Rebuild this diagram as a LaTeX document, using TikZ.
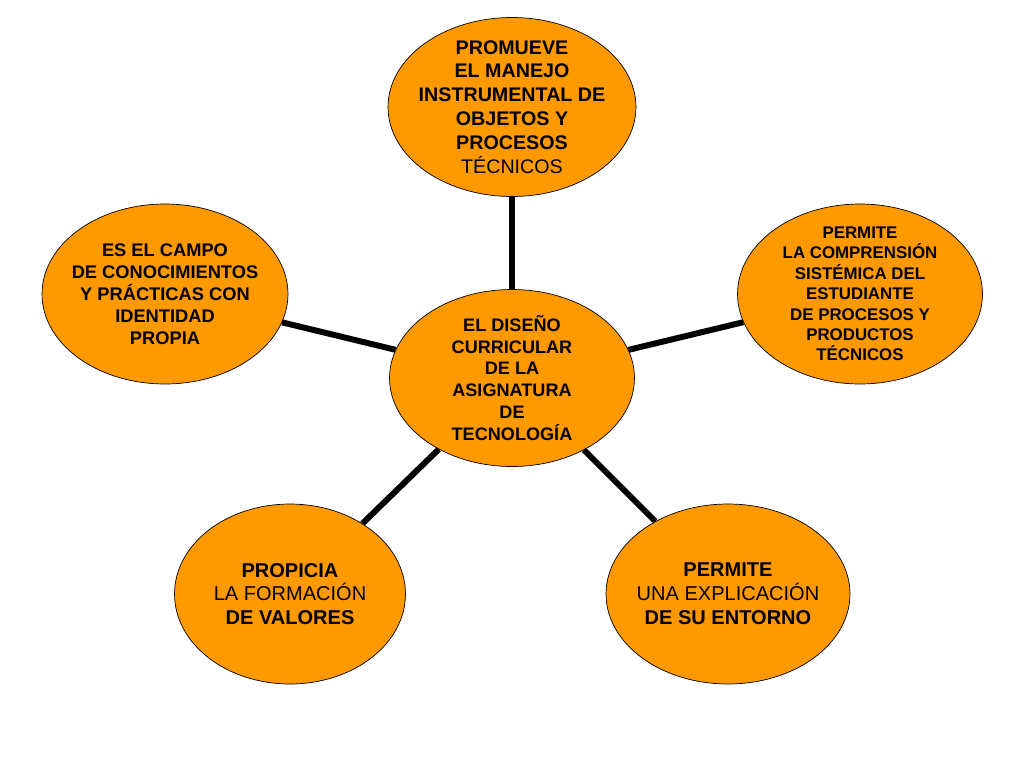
\documentclass[tikz,border=0pt]{standalone}
\usepackage{fontspec}
\setmainfont{Liberation Sans}
\usepackage{tikz}
\usetikzlibrary{shapes.geometric}
\definecolor{naranja}{HTML}{FF9900}

\tikzset{
  globo/.style={ellipse, draw=black, thin, fill=naranja, inner sep=0pt},
  texto/.style={align=center, inner sep=0pt},
  enlace/.style={line width=3.4pt, black}
}

\begin{document}
\begin{tikzpicture}[x=0.02cm, y=-0.02cm]
  \useasboundingbox (0,0) rectangle (1024,768);

  % the ellipses: the subject in the middle, five ideas around it
  \node [globo, minimum width=4.9cm,  minimum height=3.54cm] (centro)    at (512,378) {};
  \node [globo, minimum width=4.96cm, minimum height=3.58cm] (arriba)    at (512,107) {};
  \node [globo, minimum width=4.92cm, minimum height=3.6cm]  (izquierda) at (165,294) {};
  \node [globo, minimum width=4.9cm,  minimum height=3.6cm]  (derecha)   at (860,294) {};
  \node [globo, minimum width=4.62cm, minimum height=3.6cm]  (abajoizq)  at (290,594) {};
  \node [globo, minimum width=4.88cm, minimum height=3.6cm]  (abajoder)  at (728,594) {};

  % their texts
  \node [texto, font=\fontsize{10.3}{12.5}\selectfont\bfseries] (t-centro) at (centro)
    {EL DISEÑO\\ CURRICULAR\\ DE LA\\ ASIGNATURA\\ DE\\ TECNOLOGÍA};
  \node [texto, font=\fontsize{11.2}{13.6}\selectfont\bfseries] (t-arriba) at (arriba)
    {PROMUEVE\\ EL MANEJO\\ INSTRUMENTAL DE\\ OBJETOS Y\\ PROCESOS\\ {\mdseries TÉCNICOS}};
  \node [texto, font=\fontsize{10.4}{12.6}\selectfont\bfseries] (t-izquierda) at (izquierda)
    {ES EL CAMPO\\ DE CONOCIMIENTOS\\ Y PRÁCTICAS CON\\ IDENTIDAD\\ PROPIA};
  \node [texto, font=\fontsize{9.6}{11.6}\selectfont\bfseries] (t-derecha) at (derecha)
    {PERMITE\\ LA COMPRENSIÓN\\ SISTÉMICA DEL\\ ESTUDIANTE\\ DE PROCESOS Y\\ PRODUCTOS\\ TÉCNICOS};
  \node [texto, font=\fontsize{11.4}{13.6}\selectfont\bfseries] (t-abajoizq) at (abajoizq)
    {PROPICIA\\ {\mdseries LA FORMACIÓN}\\ DE VALORES};
  \node [texto, font=\fontsize{11.4}{13.6}\selectfont\bfseries] (t-abajoder) at (abajoder)
    {PERMITE\\ {\mdseries UNA EXPLICACIÓN}\\ DE SU ENTORNO};

  % spokes from the middle
  \foreach \n in {arriba, izquierda, derecha, abajoizq, abajoder} {
    \draw [enlace] (centro) -- (\n);
  }
\end{tikzpicture}
\end{document}
